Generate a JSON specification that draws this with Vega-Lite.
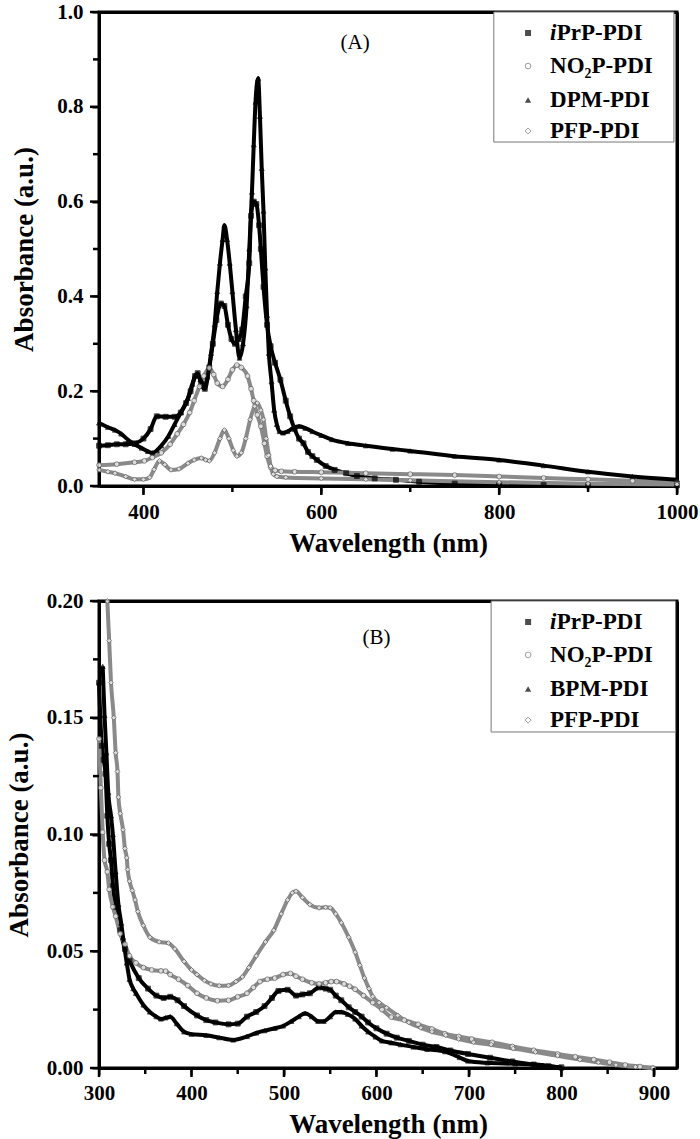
{
  "$schema": "https://vega.github.io/schema/vega-lite/v6.json",
  "padding": {"left": 3, "top": -1, "right": 0, "bottom": 0},
  "background": "white",
  "config": {
    "font": "Liberation Serif",
    "axis": {
      "grid": false, "domainColor": "black", "domainWidth": 3,
      "tickColor": "black", "tickWidth": 2, "tickSize": 7,
      "labelFont": "Liberation Serif", "labelFontWeight": "bold", "labelFontSize": 21, "labelColor": "black",
      "labelFlush": false, "labelOverlap": false, "labelPadding": 8,
      "titleFont": "Liberation Serif", "titleFontWeight": "bold", "titleFontSize": 27, "titleColor": "black"
    },
    "axisY": {"labelPadding": 9},
    "axisX": {"titlePadding": 8}
  },
  "datasets": {
    "tA": [
      {"a":"x","k":"M","v":400},{"a":"x","k":"M","v":600},{"a":"x","k":"M","v":800},{"a":"x","k":"M","v":1000},
      {"a":"x","k":"m","v":500},{"a":"x","k":"m","v":700},{"a":"x","k":"m","v":900},
      {"a":"y","k":"M","v":0},{"a":"y","k":"M","v":0.2},{"a":"y","k":"M","v":0.4},{"a":"y","k":"M","v":0.6},{"a":"y","k":"M","v":0.8},{"a":"y","k":"M","v":1.0},
      {"a":"y","k":"m","v":0.1},{"a":"y","k":"m","v":0.3},{"a":"y","k":"m","v":0.5},{"a":"y","k":"m","v":0.7},{"a":"y","k":"m","v":0.9}
    ],
    "tB": [
      {"a":"x","k":"M","v":300},{"a":"x","k":"M","v":400},{"a":"x","k":"M","v":500},{"a":"x","k":"M","v":600},{"a":"x","k":"M","v":700},{"a":"x","k":"M","v":800},{"a":"x","k":"M","v":900},
      {"a":"x","k":"m","v":350},{"a":"x","k":"m","v":450},{"a":"x","k":"m","v":550},{"a":"x","k":"m","v":650},{"a":"x","k":"m","v":750},{"a":"x","k":"m","v":850},
      {"a":"y","k":"M","v":0},{"a":"y","k":"M","v":0.05},{"a":"y","k":"M","v":0.1},{"a":"y","k":"M","v":0.15},{"a":"y","k":"M","v":0.2},
      {"a":"y","k":"m","v":0.025},{"a":"y","k":"m","v":0.075},{"a":"y","k":"m","v":0.125},{"a":"y","k":"m","v":0.175}
    ],
    "A": [
      {"s":"iPrP-PDI","x":350,"y":0.085},{"s":"iPrP-PDI","x":360,"y":0.086},{"s":"iPrP-PDI","x":370,"y":0.088},{"s":"iPrP-PDI","x":380,"y":0.088},{"s":"iPrP-PDI","x":390,"y":0.09},{"s":"iPrP-PDI","x":400,"y":0.1},{"s":"iPrP-PDI","x":408,"y":0.12},{"s":"iPrP-PDI","x":415,"y":0.147},{"s":"iPrP-PDI","x":425,"y":0.146},{"s":"iPrP-PDI","x":435,"y":0.146},{"s":"iPrP-PDI","x":442,"y":0.155},{"s":"iPrP-PDI","x":448,"y":0.175},{"s":"iPrP-PDI","x":453,"y":0.2},{"s":"iPrP-PDI","x":458,"y":0.232},{"s":"iPrP-PDI","x":461,"y":0.238},{"s":"iPrP-PDI","x":465,"y":0.215},{"s":"iPrP-PDI","x":469,"y":0.205},{"s":"iPrP-PDI","x":474,"y":0.25},{"s":"iPrP-PDI","x":478,"y":0.3},{"s":"iPrP-PDI","x":482,"y":0.35},{"s":"iPrP-PDI","x":487,"y":0.385},{"s":"iPrP-PDI","x":491,"y":0.38},{"s":"iPrP-PDI","x":495,"y":0.34},{"s":"iPrP-PDI","x":499,"y":0.31},{"s":"iPrP-PDI","x":503,"y":0.3},{"s":"iPrP-PDI","x":507,"y":0.31},{"s":"iPrP-PDI","x":511,"y":0.33},{"s":"iPrP-PDI","x":515,"y":0.4},{"s":"iPrP-PDI","x":519,"y":0.47},{"s":"iPrP-PDI","x":521,"y":0.57},{"s":"iPrP-PDI","x":524,"y":0.6},{"s":"iPrP-PDI","x":527,"y":0.595},{"s":"iPrP-PDI","x":530,"y":0.55},{"s":"iPrP-PDI","x":532,"y":0.5},{"s":"iPrP-PDI","x":535,"y":0.42},{"s":"iPrP-PDI","x":539,"y":0.34},{"s":"iPrP-PDI","x":543,"y":0.295},{"s":"iPrP-PDI","x":548,"y":0.26},{"s":"iPrP-PDI","x":554,"y":0.224},{"s":"iPrP-PDI","x":560,"y":0.18},{"s":"iPrP-PDI","x":565,"y":0.147},{"s":"iPrP-PDI","x":570,"y":0.12},{"s":"iPrP-PDI","x":575,"y":0.1},{"s":"iPrP-PDI","x":580,"y":0.09},{"s":"iPrP-PDI","x":585,"y":0.072},{"s":"iPrP-PDI","x":590,"y":0.063},{"s":"iPrP-PDI","x":595,"y":0.055},{"s":"iPrP-PDI","x":605,"y":0.042},{"s":"iPrP-PDI","x":615,"y":0.034},{"s":"iPrP-PDI","x":628,"y":0.027},{"s":"iPrP-PDI","x":640,"y":0.021},{"s":"iPrP-PDI","x":660,"y":0.016},{"s":"iPrP-PDI","x":684,"y":0.013},{"s":"iPrP-PDI","x":710,"y":0.009},{"s":"iPrP-PDI","x":750,"y":0.005},{"s":"iPrP-PDI","x":800,"y":0.003},{"s":"iPrP-PDI","x":850,"y":0.002},{"s":"iPrP-PDI","x":900,"y":0.001},{"s":"iPrP-PDI","x":1000,"y":0.001},
      {"s":"NO₂P-PDI","x":350,"y":0.044},{"s":"NO₂P-PDI","x":370,"y":0.046},{"s":"NO₂P-PDI","x":390,"y":0.05},{"s":"NO₂P-PDI","x":401,"y":0.053},{"s":"NO₂P-PDI","x":410,"y":0.06},{"s":"NO₂P-PDI","x":420,"y":0.07},{"s":"NO₂P-PDI","x":430,"y":0.088},{"s":"NO₂P-PDI","x":438,"y":0.11},{"s":"NO₂P-PDI","x":445,"y":0.13},{"s":"NO₂P-PDI","x":452,"y":0.155},{"s":"NO₂P-PDI","x":457,"y":0.18},{"s":"NO₂P-PDI","x":463,"y":0.21},{"s":"NO₂P-PDI","x":468,"y":0.232},{"s":"NO₂P-PDI","x":474,"y":0.249},{"s":"NO₂P-PDI","x":479,"y":0.235},{"s":"NO₂P-PDI","x":483,"y":0.217},{"s":"NO₂P-PDI","x":489,"y":0.21},{"s":"NO₂P-PDI","x":495,"y":0.225},{"s":"NO₂P-PDI","x":500,"y":0.245},{"s":"NO₂P-PDI","x":505,"y":0.255},{"s":"NO₂P-PDI","x":510,"y":0.25},{"s":"NO₂P-PDI","x":517,"y":0.232},{"s":"NO₂P-PDI","x":521,"y":0.205},{"s":"NO₂P-PDI","x":524,"y":0.18},{"s":"NO₂P-PDI","x":528,"y":0.15},{"s":"NO₂P-PDI","x":532,"y":0.126},{"s":"NO₂P-PDI","x":536,"y":0.09},{"s":"NO₂P-PDI","x":539,"y":0.063},{"s":"NO₂P-PDI","x":543,"y":0.04},{"s":"NO₂P-PDI","x":548,"y":0.033},{"s":"NO₂P-PDI","x":555,"y":0.031},{"s":"NO₂P-PDI","x":570,"y":0.03},{"s":"NO₂P-PDI","x":600,"y":0.029},{"s":"NO₂P-PDI","x":650,"y":0.027},{"s":"NO₂P-PDI","x":700,"y":0.025},{"s":"NO₂P-PDI","x":750,"y":0.023},{"s":"NO₂P-PDI","x":800,"y":0.02},{"s":"NO₂P-PDI","x":850,"y":0.017},{"s":"NO₂P-PDI","x":900,"y":0.014},{"s":"NO₂P-PDI","x":950,"y":0.011},{"s":"NO₂P-PDI","x":1000,"y":0.008},
      {"s":"DPM-PDI","x":350,"y":0.133},{"s":"DPM-PDI","x":360,"y":0.124},{"s":"DPM-PDI","x":368,"y":0.118},{"s":"DPM-PDI","x":375,"y":0.11},{"s":"DPM-PDI","x":383,"y":0.097},{"s":"DPM-PDI","x":390,"y":0.088},{"s":"DPM-PDI","x":398,"y":0.08},{"s":"DPM-PDI","x":405,"y":0.073},{"s":"DPM-PDI","x":410,"y":0.07},{"s":"DPM-PDI","x":415,"y":0.075},{"s":"DPM-PDI","x":420,"y":0.085},{"s":"DPM-PDI","x":428,"y":0.105},{"s":"DPM-PDI","x":435,"y":0.13},{"s":"DPM-PDI","x":442,"y":0.155},{"s":"DPM-PDI","x":450,"y":0.185},{"s":"DPM-PDI","x":455,"y":0.215},{"s":"DPM-PDI","x":460,"y":0.235},{"s":"DPM-PDI","x":464,"y":0.225},{"s":"DPM-PDI","x":468,"y":0.21},{"s":"DPM-PDI","x":472,"y":0.23},{"s":"DPM-PDI","x":476,"y":0.28},{"s":"DPM-PDI","x":480,"y":0.34},{"s":"DPM-PDI","x":483,"y":0.41},{"s":"DPM-PDI","x":486,"y":0.47},{"s":"DPM-PDI","x":489,"y":0.52},{"s":"DPM-PDI","x":491,"y":0.55},{"s":"DPM-PDI","x":494,"y":0.52},{"s":"DPM-PDI","x":497,"y":0.47},{"s":"DPM-PDI","x":500,"y":0.41},{"s":"DPM-PDI","x":504,"y":0.33},{"s":"DPM-PDI","x":508,"y":0.27},{"s":"DPM-PDI","x":512,"y":0.3},{"s":"DPM-PDI","x":516,"y":0.38},{"s":"DPM-PDI","x":519,"y":0.5},{"s":"DPM-PDI","x":522,"y":0.62},{"s":"DPM-PDI","x":524,"y":0.72},{"s":"DPM-PDI","x":526,"y":0.81},{"s":"DPM-PDI","x":529,"y":0.86},{"s":"DPM-PDI","x":531,"y":0.78},{"s":"DPM-PDI","x":533,"y":0.67},{"s":"DPM-PDI","x":535,"y":0.58},{"s":"DPM-PDI","x":537,"y":0.46},{"s":"DPM-PDI","x":539,"y":0.36},{"s":"DPM-PDI","x":541,"y":0.28},{"s":"DPM-PDI","x":544,"y":0.22},{"s":"DPM-PDI","x":547,"y":0.16},{"s":"DPM-PDI","x":550,"y":0.13},{"s":"DPM-PDI","x":553,"y":0.115},{"s":"DPM-PDI","x":557,"y":0.112},{"s":"DPM-PDI","x":562,"y":0.115},{"s":"DPM-PDI","x":568,"y":0.122},{"s":"DPM-PDI","x":575,"y":0.126},{"s":"DPM-PDI","x":582,"y":0.122},{"s":"DPM-PDI","x":590,"y":0.115},{"s":"DPM-PDI","x":600,"y":0.107},{"s":"DPM-PDI","x":612,"y":0.098},{"s":"DPM-PDI","x":630,"y":0.09},{"s":"DPM-PDI","x":650,"y":0.085},{"s":"DPM-PDI","x":680,"y":0.078},{"s":"DPM-PDI","x":700,"y":0.074},{"s":"DPM-PDI","x":750,"y":0.063},{"s":"DPM-PDI","x":800,"y":0.055},{"s":"DPM-PDI","x":850,"y":0.043},{"s":"DPM-PDI","x":900,"y":0.03},{"s":"DPM-PDI","x":950,"y":0.02},{"s":"DPM-PDI","x":1000,"y":0.013},
      {"s":"PFP-PDI","x":350,"y":0.034},{"s":"PFP-PDI","x":360,"y":0.03},{"s":"PFP-PDI","x":368,"y":0.027},{"s":"PFP-PDI","x":380,"y":0.02},{"s":"PFP-PDI","x":390,"y":0.014},{"s":"PFP-PDI","x":400,"y":0.014},{"s":"PFP-PDI","x":407,"y":0.018},{"s":"PFP-PDI","x":412,"y":0.035},{"s":"PFP-PDI","x":418,"y":0.053},{"s":"PFP-PDI","x":424,"y":0.045},{"s":"PFP-PDI","x":431,"y":0.034},{"s":"PFP-PDI","x":440,"y":0.036},{"s":"PFP-PDI","x":450,"y":0.048},{"s":"PFP-PDI","x":457,"y":0.055},{"s":"PFP-PDI","x":465,"y":0.059},{"s":"PFP-PDI","x":470,"y":0.055},{"s":"PFP-PDI","x":474,"y":0.053},{"s":"PFP-PDI","x":480,"y":0.07},{"s":"PFP-PDI","x":486,"y":0.1},{"s":"PFP-PDI","x":491,"y":0.118},{"s":"PFP-PDI","x":496,"y":0.1},{"s":"PFP-PDI","x":501,"y":0.075},{"s":"PFP-PDI","x":505,"y":0.063},{"s":"PFP-PDI","x":510,"y":0.07},{"s":"PFP-PDI","x":515,"y":0.1},{"s":"PFP-PDI","x":520,"y":0.14},{"s":"PFP-PDI","x":525,"y":0.168},{"s":"PFP-PDI","x":528,"y":0.175},{"s":"PFP-PDI","x":532,"y":0.16},{"s":"PFP-PDI","x":535,"y":0.14},{"s":"PFP-PDI","x":538,"y":0.1},{"s":"PFP-PDI","x":541,"y":0.065},{"s":"PFP-PDI","x":543,"y":0.042},{"s":"PFP-PDI","x":546,"y":0.025},{"s":"PFP-PDI","x":550,"y":0.02},{"s":"PFP-PDI","x":560,"y":0.018},{"s":"PFP-PDI","x":600,"y":0.016},{"s":"PFP-PDI","x":650,"y":0.014},{"s":"PFP-PDI","x":700,"y":0.012},{"s":"PFP-PDI","x":800,"y":0.008},{"s":"PFP-PDI","x":900,"y":0.005},{"s":"PFP-PDI","x":1000,"y":0.003}
    ],
    "B": [
      {"s":"iPrP-PDI","x":300,"y":0.165},{"s":"iPrP-PDI","x":303,"y":0.138},{"s":"iPrP-PDI","x":305,"y":0.132},{"s":"iPrP-PDI","x":307,"y":0.126},{"s":"iPrP-PDI","x":309,"y":0.108},{"s":"iPrP-PDI","x":311,"y":0.096},{"s":"iPrP-PDI","x":313,"y":0.089},{"s":"iPrP-PDI","x":315,"y":0.078},{"s":"iPrP-PDI","x":318,"y":0.069},{"s":"iPrP-PDI","x":323,"y":0.059},{"s":"iPrP-PDI","x":328,"y":0.051},{"s":"iPrP-PDI","x":333,"y":0.046},{"s":"iPrP-PDI","x":343,"y":0.0385},{"s":"iPrP-PDI","x":353,"y":0.034},{"s":"iPrP-PDI","x":362,"y":0.031},{"s":"iPrP-PDI","x":370,"y":0.03},{"s":"iPrP-PDI","x":377,"y":0.0305},{"s":"iPrP-PDI","x":385,"y":0.029},{"s":"iPrP-PDI","x":392,"y":0.0265},{"s":"iPrP-PDI","x":406,"y":0.0225},{"s":"iPrP-PDI","x":416,"y":0.0205},{"s":"iPrP-PDI","x":426,"y":0.0195},{"s":"iPrP-PDI","x":440,"y":0.0187},{"s":"iPrP-PDI","x":450,"y":0.019},{"s":"iPrP-PDI","x":460,"y":0.022},{"s":"iPrP-PDI","x":470,"y":0.024},{"s":"iPrP-PDI","x":479,"y":0.0265},{"s":"iPrP-PDI","x":487,"y":0.03},{"s":"iPrP-PDI","x":494,"y":0.033},{"s":"iPrP-PDI","x":504,"y":0.0335},{"s":"iPrP-PDI","x":513,"y":0.031},{"s":"iPrP-PDI","x":520,"y":0.0315},{"s":"iPrP-PDI","x":528,"y":0.032},{"s":"iPrP-PDI","x":538,"y":0.0345},{"s":"iPrP-PDI","x":545,"y":0.034},{"s":"iPrP-PDI","x":550,"y":0.0335},{"s":"iPrP-PDI","x":556,"y":0.031},{"s":"iPrP-PDI","x":562,"y":0.029},{"s":"iPrP-PDI","x":570,"y":0.026},{"s":"iPrP-PDI","x":577,"y":0.024},{"s":"iPrP-PDI","x":584,"y":0.022},{"s":"iPrP-PDI","x":591,"y":0.0195},{"s":"iPrP-PDI","x":600,"y":0.017},{"s":"iPrP-PDI","x":611,"y":0.0147},{"s":"iPrP-PDI","x":622,"y":0.013},{"s":"iPrP-PDI","x":635,"y":0.0116},{"s":"iPrP-PDI","x":650,"y":0.01},{"s":"iPrP-PDI","x":665,"y":0.009},{"s":"iPrP-PDI","x":680,"y":0.0075},{"s":"iPrP-PDI","x":699,"y":0.006},{"s":"iPrP-PDI","x":723,"y":0.0044},{"s":"iPrP-PDI","x":747,"y":0.0028},{"s":"iPrP-PDI","x":770,"y":0.0015},{"s":"iPrP-PDI","x":786,"y":0.0008},{"s":"iPrP-PDI","x":800,"y":0.0003},
      {"s":"NO₂P-PDI","x":300,"y":0.141},{"s":"NO₂P-PDI","x":302,"y":0.12},{"s":"NO₂P-PDI","x":304,"y":0.101},{"s":"NO₂P-PDI","x":306,"y":0.089},{"s":"NO₂P-PDI","x":309,"y":0.084},{"s":"NO₂P-PDI","x":311,"y":0.0765},{"s":"NO₂P-PDI","x":315,"y":0.069},{"s":"NO₂P-PDI","x":318,"y":0.065},{"s":"NO₂P-PDI","x":323,"y":0.0575},{"s":"NO₂P-PDI","x":328,"y":0.053},{"s":"NO₂P-PDI","x":333,"y":0.048},{"s":"NO₂P-PDI","x":340,"y":0.045},{"s":"NO₂P-PDI","x":348,"y":0.043},{"s":"NO₂P-PDI","x":357,"y":0.042},{"s":"NO₂P-PDI","x":367,"y":0.0416},{"s":"NO₂P-PDI","x":372,"y":0.0415},{"s":"NO₂P-PDI","x":377,"y":0.04},{"s":"NO₂P-PDI","x":386,"y":0.038},{"s":"NO₂P-PDI","x":396,"y":0.0353},{"s":"NO₂P-PDI","x":406,"y":0.032},{"s":"NO₂P-PDI","x":416,"y":0.03},{"s":"NO₂P-PDI","x":428,"y":0.0288},{"s":"NO₂P-PDI","x":440,"y":0.029},{"s":"NO₂P-PDI","x":450,"y":0.0305},{"s":"NO₂P-PDI","x":460,"y":0.032},{"s":"NO₂P-PDI","x":467,"y":0.0345},{"s":"NO₂P-PDI","x":474,"y":0.037},{"s":"NO₂P-PDI","x":482,"y":0.038},{"s":"NO₂P-PDI","x":490,"y":0.0385},{"s":"NO₂P-PDI","x":499,"y":0.04},{"s":"NO₂P-PDI","x":507,"y":0.0405},{"s":"NO₂P-PDI","x":513,"y":0.0393},{"s":"NO₂P-PDI","x":520,"y":0.038},{"s":"NO₂P-PDI","x":530,"y":0.0365},{"s":"NO₂P-PDI","x":538,"y":0.036},{"s":"NO₂P-PDI","x":545,"y":0.0365},{"s":"NO₂P-PDI","x":551,"y":0.037},{"s":"NO₂P-PDI","x":557,"y":0.037},{"s":"NO₂P-PDI","x":565,"y":0.036},{"s":"NO₂P-PDI","x":571,"y":0.035},{"s":"NO₂P-PDI","x":577,"y":0.0337},{"s":"NO₂P-PDI","x":586,"y":0.031},{"s":"NO₂P-PDI","x":596,"y":0.028},{"s":"NO₂P-PDI","x":606,"y":0.025},{"s":"NO₂P-PDI","x":616,"y":0.0218},{"s":"NO₂P-PDI","x":630,"y":0.0205},{"s":"NO₂P-PDI","x":645,"y":0.0187},{"s":"NO₂P-PDI","x":660,"y":0.0167},{"s":"NO₂P-PDI","x":674,"y":0.0147},{"s":"NO₂P-PDI","x":689,"y":0.0135},{"s":"NO₂P-PDI","x":703,"y":0.0124},{"s":"NO₂P-PDI","x":725,"y":0.011},{"s":"NO₂P-PDI","x":747,"y":0.0092},{"s":"NO₂P-PDI","x":770,"y":0.0076},{"s":"NO₂P-PDI","x":796,"y":0.006},{"s":"NO₂P-PDI","x":815,"y":0.0048},{"s":"NO₂P-PDI","x":835,"y":0.0036},{"s":"NO₂P-PDI","x":852,"y":0.0025},{"s":"NO₂P-PDI","x":869,"y":0.0013},{"s":"NO₂P-PDI","x":885,"y":0.0006},{"s":"NO₂P-PDI","x":899,"y":0.0},
      {"s":"BPM-PDI","x":304,"y":0.172},{"s":"BPM-PDI","x":306,"y":0.151},{"s":"BPM-PDI","x":308,"y":0.135},{"s":"BPM-PDI","x":310,"y":0.118},{"s":"BPM-PDI","x":313,"y":0.108},{"s":"BPM-PDI","x":315,"y":0.1},{"s":"BPM-PDI","x":318,"y":0.084},{"s":"BPM-PDI","x":321,"y":0.07},{"s":"BPM-PDI","x":324,"y":0.062},{"s":"BPM-PDI","x":326,"y":0.056},{"s":"BPM-PDI","x":330,"y":0.045},{"s":"BPM-PDI","x":333,"y":0.038},{"s":"BPM-PDI","x":337,"y":0.034},{"s":"BPM-PDI","x":340,"y":0.032},{"s":"BPM-PDI","x":348,"y":0.027},{"s":"BPM-PDI","x":355,"y":0.024},{"s":"BPM-PDI","x":362,"y":0.022},{"s":"BPM-PDI","x":367,"y":0.021},{"s":"BPM-PDI","x":372,"y":0.0215},{"s":"BPM-PDI","x":377,"y":0.022},{"s":"BPM-PDI","x":384,"y":0.019},{"s":"BPM-PDI","x":392,"y":0.0155},{"s":"BPM-PDI","x":400,"y":0.0145},{"s":"BPM-PDI","x":416,"y":0.014},{"s":"BPM-PDI","x":430,"y":0.013},{"s":"BPM-PDI","x":445,"y":0.012},{"s":"BPM-PDI","x":460,"y":0.0135},{"s":"BPM-PDI","x":470,"y":0.015},{"s":"BPM-PDI","x":479,"y":0.016},{"s":"BPM-PDI","x":490,"y":0.017},{"s":"BPM-PDI","x":499,"y":0.018},{"s":"BPM-PDI","x":508,"y":0.02},{"s":"BPM-PDI","x":516,"y":0.022},{"s":"BPM-PDI","x":523,"y":0.0234},{"s":"BPM-PDI","x":530,"y":0.022},{"s":"BPM-PDI","x":537,"y":0.02},{"s":"BPM-PDI","x":543,"y":0.02},{"s":"BPM-PDI","x":550,"y":0.022},{"s":"BPM-PDI","x":556,"y":0.024},{"s":"BPM-PDI","x":562,"y":0.024},{"s":"BPM-PDI","x":569,"y":0.023},{"s":"BPM-PDI","x":577,"y":0.021},{"s":"BPM-PDI","x":584,"y":0.018},{"s":"BPM-PDI","x":591,"y":0.0155},{"s":"BPM-PDI","x":599,"y":0.0133},{"s":"BPM-PDI","x":606,"y":0.0116},{"s":"BPM-PDI","x":616,"y":0.0108},{"s":"BPM-PDI","x":626,"y":0.01},{"s":"BPM-PDI","x":640,"y":0.009},{"s":"BPM-PDI","x":655,"y":0.008},{"s":"BPM-PDI","x":674,"y":0.007},{"s":"BPM-PDI","x":690,"y":0.0045},{"s":"BPM-PDI","x":699,"y":0.003},{"s":"BPM-PDI","x":720,"y":0.0022},{"s":"BPM-PDI","x":750,"y":0.0018},{"s":"BPM-PDI","x":780,"y":0.0012},{"s":"BPM-PDI","x":800,"y":0.0},
      {"s":"PFP-PDI","x":309,"y":0.2},{"s":"PFP-PDI","x":311,"y":0.183},{"s":"PFP-PDI","x":313,"y":0.165},{"s":"PFP-PDI","x":316,"y":0.15},{"s":"PFP-PDI","x":318,"y":0.135},{"s":"PFP-PDI","x":320,"y":0.127},{"s":"PFP-PDI","x":321,"y":0.116},{"s":"PFP-PDI","x":323,"y":0.109},{"s":"PFP-PDI","x":326,"y":0.102},{"s":"PFP-PDI","x":328,"y":0.094},{"s":"PFP-PDI","x":330,"y":0.09},{"s":"PFP-PDI","x":331,"y":0.085},{"s":"PFP-PDI","x":333,"y":0.08},{"s":"PFP-PDI","x":336,"y":0.076},{"s":"PFP-PDI","x":339,"y":0.072},{"s":"PFP-PDI","x":342,"y":0.067},{"s":"PFP-PDI","x":348,"y":0.061},{"s":"PFP-PDI","x":355,"y":0.056},{"s":"PFP-PDI","x":365,"y":0.054},{"s":"PFP-PDI","x":375,"y":0.0535},{"s":"PFP-PDI","x":382,"y":0.051},{"s":"PFP-PDI","x":392,"y":0.0456},{"s":"PFP-PDI","x":400,"y":0.042},{"s":"PFP-PDI","x":406,"y":0.04},{"s":"PFP-PDI","x":414,"y":0.0375},{"s":"PFP-PDI","x":421,"y":0.036},{"s":"PFP-PDI","x":430,"y":0.0352},{"s":"PFP-PDI","x":440,"y":0.0353},{"s":"PFP-PDI","x":448,"y":0.037},{"s":"PFP-PDI","x":455,"y":0.039},{"s":"PFP-PDI","x":462,"y":0.043},{"s":"PFP-PDI","x":470,"y":0.048},{"s":"PFP-PDI","x":480,"y":0.054},{"s":"PFP-PDI","x":489,"y":0.059},{"s":"PFP-PDI","x":497,"y":0.066},{"s":"PFP-PDI","x":504,"y":0.072},{"s":"PFP-PDI","x":509,"y":0.075},{"s":"PFP-PDI","x":513,"y":0.0757},{"s":"PFP-PDI","x":520,"y":0.073},{"s":"PFP-PDI","x":528,"y":0.07},{"s":"PFP-PDI","x":538,"y":0.0686},{"s":"PFP-PDI","x":545,"y":0.0688},{"s":"PFP-PDI","x":550,"y":0.0686},{"s":"PFP-PDI","x":556,"y":0.066},{"s":"PFP-PDI","x":562,"y":0.0622},{"s":"PFP-PDI","x":570,"y":0.056},{"s":"PFP-PDI","x":577,"y":0.0496},{"s":"PFP-PDI","x":582,"y":0.044},{"s":"PFP-PDI","x":587,"y":0.0385},{"s":"PFP-PDI","x":592,"y":0.034},{"s":"PFP-PDI","x":596,"y":0.0306},{"s":"PFP-PDI","x":603,"y":0.028},{"s":"PFP-PDI","x":611,"y":0.0258},{"s":"PFP-PDI","x":623,"y":0.0225},{"s":"PFP-PDI","x":635,"y":0.0195},{"s":"PFP-PDI","x":648,"y":0.0172},{"s":"PFP-PDI","x":660,"y":0.0155},{"s":"PFP-PDI","x":675,"y":0.014},{"s":"PFP-PDI","x":689,"y":0.0124},{"s":"PFP-PDI","x":705,"y":0.011},{"s":"PFP-PDI","x":724,"y":0.01},{"s":"PFP-PDI","x":748,"y":0.0083},{"s":"PFP-PDI","x":772,"y":0.0068},{"s":"PFP-PDI","x":796,"y":0.0052},{"s":"PFP-PDI","x":820,"y":0.0036},{"s":"PFP-PDI","x":840,"y":0.0024},{"s":"PFP-PDI","x":859,"y":0.0013},{"s":"PFP-PDI","x":880,"y":0.0005},{"s":"PFP-PDI","x":899,"y":0.0}
    ]
  },
  "vconcat": [
    {
      "width": 578, "height": 474,
      "view": {"stroke": "black", "strokeWidth": 3},
      "resolve": {"axis": {"x": "independent", "y": "independent"}},
      "layer": [
        {
          "data": {"name": "A"},
          "mark": {"type": "line", "interpolate": "monotone"},
          "encoding": {
            "x": {"field": "x", "type": "quantitative", "scale": {"domain": [350, 1000], "nice": false, "zero": false},
              "axis": {"orient": "bottom", "title": "Wavelength (nm)", "values": [400, 600, 800, 1000], "format": "d", "ticks": true, "tickSize": 7, "domain": true, "domainWidth": 3, "domainColor": "black"}},
            "y": {"field": "y", "type": "quantitative", "scale": {"domain": [0, 1], "nice": false},
              "axis": {"orient": "left", "title": "Absorbance (a.u.)", "values": [0, 0.2, 0.4, 0.6, 0.8, 1.0], "format": ".1f", "titlePadding": 18, "ticks": true, "tickSize": 7, "domain": true, "domainWidth": 3, "domainColor": "black"}},
            "color": {"field": "s", "type": "nominal", "legend": null,
              "scale": {"domain": ["iPrP-PDI", "NO₂P-PDI", "DPM-PDI", "PFP-PDI"], "range": ["black", "#8a8a8a", "black", "#8a8a8a"]}},
            "strokeWidth": {"field": "s", "type": "nominal", "legend": null,
              "scale": {"domain": ["iPrP-PDI", "NO₂P-PDI", "DPM-PDI", "PFP-PDI"], "range": [4, 4, 3, 4]}}
          }
        },
        {
          "data": {"name": "A"},
          "mark": {"type": "point", "filled": true, "size": 24, "strokeWidth": 1},
          "encoding": {
            "x": {"field": "x", "type": "quantitative",
              "axis": {"orient": "top", "labels": false, "ticks": false, "title": null, "domain": true, "domainWidth": 3, "domainColor": "black"}},
            "y": {"field": "y", "type": "quantitative",
              "axis": {"orient": "right", "labels": false, "ticks": false, "title": null, "domain": true, "domainWidth": 3, "domainColor": "black"}},
            "shape": {"field": "s", "type": "nominal", "legend": null,
              "scale": {"domain": ["iPrP-PDI", "NO₂P-PDI", "DPM-PDI", "PFP-PDI"], "range": ["square", "circle", "triangle-up", "diamond"]}},
            "fill": {"field": "s", "type": "nominal", "legend": null,
              "scale": {"domain": ["iPrP-PDI", "NO₂P-PDI", "DPM-PDI", "PFP-PDI"], "range": ["black", "white", "black", "white"]}},
            "stroke": {"field": "s", "type": "nominal", "legend": null,
              "scale": {"domain": ["iPrP-PDI", "NO₂P-PDI", "DPM-PDI", "PFP-PDI"], "range": ["black", "#666666", "black", "#666666"]}}
          }
        },
        {
          "data": {"name": "tA"}, "transform": [{"filter": "datum.a === 'x' && datum.k === 'M'"}],
          "mark": {"type": "tick", "orient": "vertical", "clip": false, "size": 9, "thickness": 2.5, "color": "black", "opacity": 1, "yOffset": 4.5},
          "encoding": {"x": {"field": "v", "type": "quantitative", "axis": null}, "y": {"datum": 0, "type": "quantitative", "axis": null}}
        },
        {
          "data": {"name": "tA"}, "transform": [{"filter": "datum.a === 'x' && datum.k === 'm'"}],
          "mark": {"type": "tick", "orient": "vertical", "clip": false, "size": 6, "thickness": 2.5, "color": "black", "opacity": 1, "yOffset": 3},
          "encoding": {"x": {"field": "v", "type": "quantitative", "axis": null}, "y": {"datum": 0, "type": "quantitative", "axis": null}}
        },
        {
          "data": {"name": "tA"}, "transform": [{"filter": "datum.a === 'y' && datum.k === 'M'"}],
          "mark": {"type": "tick", "orient": "horizontal", "clip": false, "size": 9, "thickness": 2.5, "color": "black", "opacity": 1, "xOffset": -4.5},
          "encoding": {"y": {"field": "v", "type": "quantitative", "axis": null}, "x": {"datum": 350, "type": "quantitative", "axis": null}}
        },
        {
          "data": {"name": "tA"}, "transform": [{"filter": "datum.a === 'y' && datum.k === 'm'"}],
          "mark": {"type": "tick", "orient": "horizontal", "clip": false, "size": 6, "thickness": 2.5, "color": "black", "opacity": 1, "xOffset": -3},
          "encoding": {"y": {"field": "v", "type": "quantitative", "axis": null}, "x": {"datum": 350, "type": "quantitative", "axis": null}}
        },
        {
          "data": {"values": [{"t": "(A)"}]},
          "mark": {"type": "text", "font": "Liberation Serif", "fontSize": 21, "color": "black"},
          "encoding": {"x": {"datum": 638, "type": "quantitative", "axis": null}, "y": {"datum": 0.935, "type": "quantitative", "axis": null}, "text": {"field": "t"}}
        },
        {
          "data": {"values": [{"t": "legend"}]},
          "mark": {"type": "rect", "fill": "white", "stroke": "#777777", "strokeWidth": 1},
          "encoding": {"x": {"datum": 794, "type": "quantitative", "axis": null}, "x2": {"datum": 996.6}, "y": {"datum": 1, "type": "quantitative", "axis": null}, "y2": {"datum": 0.7257}}
        },
        {
          "data": {"values": [{"s": "iPrP-PDI"}]},
          "mark": {"type": "point", "shape": "square", "filled": true, "color": "black", "size": 36},
          "encoding": {"x": {"datum": 832.5, "type": "quantitative", "axis": null}, "y": {"datum": 0.9557, "type": "quantitative", "axis": null}}
        },
        {
          "data": {"values": [{"s": "NO₂P-PDI"}]},
          "mark": {"type": "point", "shape": "circle", "filled": false, "fill": "white", "stroke": "#777777", "strokeWidth": 1, "size": 32},
          "encoding": {"x": {"datum": 832.5, "type": "quantitative", "axis": null}, "y": {"datum": 0.886, "type": "quantitative", "axis": null}}
        },
        {
          "data": {"values": [{"s": "DPM-PDI"}]},
          "mark": {"type": "point", "shape": "triangle-up", "filled": true, "color": "black", "size": 40},
          "encoding": {"x": {"datum": 832.5, "type": "quantitative", "axis": null}, "y": {"datum": 0.8143, "type": "quantitative", "axis": null}}
        },
        {
          "data": {"values": [{"s": "PFP-PDI"}]},
          "mark": {"type": "point", "shape": "diamond", "filled": false, "fill": "white", "stroke": "#777777", "strokeWidth": 1, "size": 36},
          "encoding": {"x": {"datum": 832.5, "type": "quantitative", "axis": null}, "y": {"datum": 0.749, "type": "quantitative", "axis": null}}
        },
        {
          "data": {"values": [{"t": "i"}]},
          "mark": {"type": "text", "align": "left", "baseline": "middle", "font": "Liberation Serif", "fontWeight": "bold", "fontStyle": "italic", "fontSize": 23, "color": "black"},
          "encoding": {"x": {"datum": 857.2, "type": "quantitative", "axis": null}, "y": {"datum": 0.9557, "type": "quantitative", "axis": null}, "text": {"field": "t"}}
        },
        {
          "data": {"values": [{"t": "PrP-PDI"}]},
          "mark": {"type": "text", "align": "left", "baseline": "middle", "font": "Liberation Serif", "fontWeight": "bold", "fontSize": 23, "color": "black"},
          "encoding": {"x": {"datum": 864.8, "type": "quantitative", "axis": null}, "y": {"datum": 0.9557, "type": "quantitative", "axis": null}, "text": {"field": "t"}}
        },
        {
          "data": {"values": [{"t": "NO₂P-PDI"}]},
          "mark": {"type": "text", "align": "left", "baseline": "middle", "font": "Liberation Serif", "fontWeight": "bold", "fontSize": 23, "color": "black"},
          "encoding": {"x": {"datum": 857.2, "type": "quantitative", "axis": null}, "y": {"datum": 0.886, "type": "quantitative", "axis": null}, "text": {"field": "t"}}
        },
        {
          "data": {"values": [{"t": "DPM-PDI"}]},
          "mark": {"type": "text", "align": "left", "baseline": "middle", "font": "Liberation Serif", "fontWeight": "bold", "fontSize": 23, "color": "black"},
          "encoding": {"x": {"datum": 857.2, "type": "quantitative", "axis": null}, "y": {"datum": 0.8143, "type": "quantitative", "axis": null}, "text": {"field": "t"}}
        },
        {
          "data": {"values": [{"t": "PFP-PDI"}]},
          "mark": {"type": "text", "align": "left", "baseline": "middle", "font": "Liberation Serif", "fontWeight": "bold", "fontSize": 23, "color": "black"},
          "encoding": {"x": {"datum": 857.2, "type": "quantitative", "axis": null}, "y": {"datum": 0.749, "type": "quantitative", "axis": null}, "text": {"field": "t"}}
        }
      ]
    },
    {
      "width": 578, "height": 467,
      "view": {"stroke": "black", "strokeWidth": 3},
      "resolve": {"axis": {"x": "independent", "y": "independent"}},
      "layer": [
        {
          "data": {"name": "B"},
          "mark": {"type": "line", "interpolate": "monotone"},
          "encoding": {
            "x": {"field": "x", "type": "quantitative", "scale": {"domain": [300, 925], "nice": false, "zero": false},
              "axis": {"orient": "bottom", "title": "Wavelength (nm)", "values": [300, 400, 500, 600, 700, 800, 900], "format": "d", "labelPadding": 7, "ticks": true, "tickSize": 7, "domain": true, "domainWidth": 3, "domainColor": "black"}},
            "y": {"field": "y", "type": "quantitative", "scale": {"domain": [0, 0.2], "nice": false},
              "axis": {"orient": "left", "title": "Absorbance (a.u.)", "values": [0, 0.05, 0.1, 0.15, 0.2], "format": ".2f", "titlePadding": 13, "ticks": true, "tickSize": 7, "domain": true, "domainWidth": 3, "domainColor": "black"}},
            "color": {"field": "s", "type": "nominal", "legend": null,
              "scale": {"domain": ["iPrP-PDI", "NO₂P-PDI", "BPM-PDI", "PFP-PDI"], "range": ["black", "#8a8a8a", "black", "#8a8a8a"]}},
            "strokeWidth": {"field": "s", "type": "nominal", "legend": null,
              "scale": {"domain": ["iPrP-PDI", "NO₂P-PDI", "BPM-PDI", "PFP-PDI"], "range": [4, 4, 3, 4]}}
          }
        },
        {
          "data": {"name": "B"},
          "mark": {"type": "point", "filled": true, "size": 24, "strokeWidth": 1},
          "encoding": {
            "x": {"field": "x", "type": "quantitative",
              "axis": {"orient": "top", "labels": false, "ticks": false, "title": null, "domain": true, "domainWidth": 3, "domainColor": "black"}},
            "y": {"field": "y", "type": "quantitative",
              "axis": {"orient": "right", "labels": false, "ticks": false, "title": null, "domain": true, "domainWidth": 3, "domainColor": "black"}},
            "shape": {"field": "s", "type": "nominal", "legend": null,
              "scale": {"domain": ["iPrP-PDI", "NO₂P-PDI", "BPM-PDI", "PFP-PDI"], "range": ["square", "circle", "triangle-up", "diamond"]}},
            "fill": {"field": "s", "type": "nominal", "legend": null,
              "scale": {"domain": ["iPrP-PDI", "NO₂P-PDI", "BPM-PDI", "PFP-PDI"], "range": ["black", "white", "black", "white"]}},
            "stroke": {"field": "s", "type": "nominal", "legend": null,
              "scale": {"domain": ["iPrP-PDI", "NO₂P-PDI", "BPM-PDI", "PFP-PDI"], "range": ["black", "#666666", "black", "#666666"]}}
          }
        },
        {
          "data": {"name": "tB"}, "transform": [{"filter": "datum.a === 'x' && datum.k === 'M'"}],
          "mark": {"type": "tick", "orient": "vertical", "clip": false, "size": 9, "thickness": 2.5, "color": "black", "opacity": 1, "yOffset": 4.5},
          "encoding": {"x": {"field": "v", "type": "quantitative", "axis": null}, "y": {"datum": 0, "type": "quantitative", "axis": null}}
        },
        {
          "data": {"name": "tB"}, "transform": [{"filter": "datum.a === 'x' && datum.k === 'm'"}],
          "mark": {"type": "tick", "orient": "vertical", "clip": false, "size": 6, "thickness": 2.5, "color": "black", "opacity": 1, "yOffset": 3},
          "encoding": {"x": {"field": "v", "type": "quantitative", "axis": null}, "y": {"datum": 0, "type": "quantitative", "axis": null}}
        },
        {
          "data": {"name": "tB"}, "transform": [{"filter": "datum.a === 'y' && datum.k === 'M'"}],
          "mark": {"type": "tick", "orient": "horizontal", "clip": false, "size": 9, "thickness": 2.5, "color": "black", "opacity": 1, "xOffset": -4.5},
          "encoding": {"y": {"field": "v", "type": "quantitative", "axis": null}, "x": {"datum": 300, "type": "quantitative", "axis": null}}
        },
        {
          "data": {"name": "tB"}, "transform": [{"filter": "datum.a === 'y' && datum.k === 'm'"}],
          "mark": {"type": "tick", "orient": "horizontal", "clip": false, "size": 6, "thickness": 2.5, "color": "black", "opacity": 1, "xOffset": -3},
          "encoding": {"y": {"field": "v", "type": "quantitative", "axis": null}, "x": {"datum": 300, "type": "quantitative", "axis": null}}
        },
        {
          "data": {"values": [{"t": "(B)"}]},
          "mark": {"type": "text", "font": "Liberation Serif", "fontSize": 21, "color": "black"},
          "encoding": {"x": {"datum": 600, "type": "quantitative", "axis": null}, "y": {"datum": 0.184, "type": "quantitative", "axis": null}, "text": {"field": "t"}}
        },
        {
          "data": {"values": [{"t": "legend"}]},
          "mark": {"type": "rect", "fill": "white", "stroke": "#777777", "strokeWidth": 1},
          "encoding": {"x": {"datum": 724, "type": "quantitative", "axis": null}, "x2": {"datum": 923.5}, "y": {"datum": 0.2, "type": "quantitative", "axis": null}, "y2": {"datum": 0.1439}}
        },
        {
          "data": {"values": [{"s": "iPrP-PDI"}]},
          "mark": {"type": "point", "shape": "square", "filled": true, "color": "black", "size": 36},
          "encoding": {"x": {"datum": 764, "type": "quantitative", "axis": null}, "y": {"datum": 0.191, "type": "quantitative", "axis": null}}
        },
        {
          "data": {"values": [{"s": "NO₂P-PDI"}]},
          "mark": {"type": "point", "shape": "circle", "filled": false, "fill": "white", "stroke": "#777777", "strokeWidth": 1, "size": 32},
          "encoding": {"x": {"datum": 764, "type": "quantitative", "axis": null}, "y": {"datum": 0.1769, "type": "quantitative", "axis": null}}
        },
        {
          "data": {"values": [{"s": "BPM-PDI"}]},
          "mark": {"type": "point", "shape": "triangle-up", "filled": true, "color": "black", "size": 40},
          "encoding": {"x": {"datum": 764, "type": "quantitative", "axis": null}, "y": {"datum": 0.1623, "type": "quantitative", "axis": null}}
        },
        {
          "data": {"values": [{"s": "PFP-PDI"}]},
          "mark": {"type": "point", "shape": "diamond", "filled": false, "fill": "white", "stroke": "#777777", "strokeWidth": 1, "size": 36},
          "encoding": {"x": {"datum": 764, "type": "quantitative", "axis": null}, "y": {"datum": 0.149, "type": "quantitative", "axis": null}}
        },
        {
          "data": {"values": [{"t": "i"}]},
          "mark": {"type": "text", "align": "left", "baseline": "middle", "font": "Liberation Serif", "fontWeight": "bold", "fontStyle": "italic", "fontSize": 23, "color": "black"},
          "encoding": {"x": {"datum": 787.7, "type": "quantitative", "axis": null}, "y": {"datum": 0.191, "type": "quantitative", "axis": null}, "text": {"field": "t"}}
        },
        {
          "data": {"values": [{"t": "PrP-PDI"}]},
          "mark": {"type": "text", "align": "left", "baseline": "middle", "font": "Liberation Serif", "fontWeight": "bold", "fontSize": 23, "color": "black"},
          "encoding": {"x": {"datum": 795, "type": "quantitative", "axis": null}, "y": {"datum": 0.191, "type": "quantitative", "axis": null}, "text": {"field": "t"}}
        },
        {
          "data": {"values": [{"t": "NO₂P-PDI"}]},
          "mark": {"type": "text", "align": "left", "baseline": "middle", "font": "Liberation Serif", "fontWeight": "bold", "fontSize": 23, "color": "black"},
          "encoding": {"x": {"datum": 787.7, "type": "quantitative", "axis": null}, "y": {"datum": 0.1769, "type": "quantitative", "axis": null}, "text": {"field": "t"}}
        },
        {
          "data": {"values": [{"t": "BPM-PDI"}]},
          "mark": {"type": "text", "align": "left", "baseline": "middle", "font": "Liberation Serif", "fontWeight": "bold", "fontSize": 23, "color": "black"},
          "encoding": {"x": {"datum": 787.7, "type": "quantitative", "axis": null}, "y": {"datum": 0.1623, "type": "quantitative", "axis": null}, "text": {"field": "t"}}
        },
        {
          "data": {"values": [{"t": "PFP-PDI"}]},
          "mark": {"type": "text", "align": "left", "baseline": "middle", "font": "Liberation Serif", "fontWeight": "bold", "fontSize": 23, "color": "black"},
          "encoding": {"x": {"datum": 787.7, "type": "quantitative", "axis": null}, "y": {"datum": 0.149, "type": "quantitative", "axis": null}, "text": {"field": "t"}}
        }
      ]
    }
  ],
  "spacing": 30,
  "resolve": {
    "scale": {"shape": "independent", "fill": "independent", "stroke": "independent", "color": "independent", "strokeWidth": "independent"}
  }
}
